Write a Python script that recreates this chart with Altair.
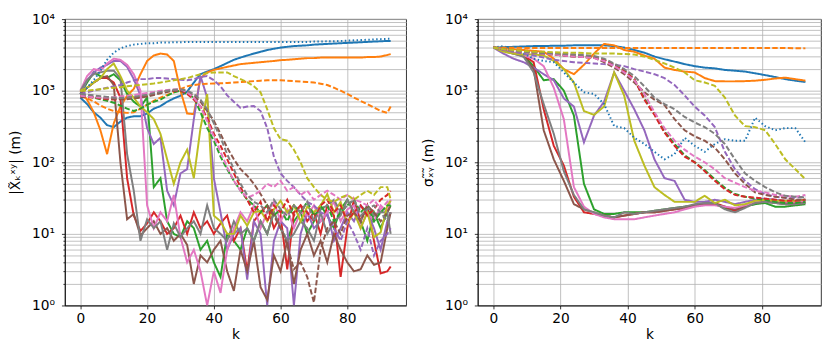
import altair as alt
import pandas as pd

# ---------------- data ----------------
K_LEFT = list(range(0, 93, 2)) + [93]
K_RIGHT = list(range(0, 94, 3))

COLORS = {
    "blue": "#1f77b4", "orange": "#ff7f0e", "green": "#2ca02c", "red": "#d62728",
    "purple": "#9467bd", "brown": "#8c564b", "pink": "#e377c2", "gray": "#7f7f7f",
    "olive": "#bcbd22",
}

# Left panel |X_k^xy| (m), k = 0,2,...,92,93
L_blue = [800, 650, 500, 420, 330, 310, 370, 420, 440, 440,
          480, 560, 610, 700, 780, 850, 970, 1300, 1700, 1850,
          2000, 2200, 2440, 2700, 2900, 3100, 3300, 3500, 3700, 3850,
          4000, 4100, 4200, 4250, 4300, 4400, 4450, 4500, 4550, 4600,
          4650, 4700, 4750, 4800, 4850, 4900, 4950, 4950]
L_blue_dot = [900, 1100, 1400, 1900, 2700, 3400, 3900, 4200, 4400, 4500,
              4600, 4600, 4700, 4700, 4750, 4750, 4800, 4800, 4800, 4800,
              4800, 4800, 4800, 4800, 4800, 4800, 4800, 4800, 4800, 4800,
              4800, 4800, 4800, 4800, 4800, 4850, 4850, 4900, 4900, 4950,
              5000, 5050, 5100, 5150, 5200, 5250, 5300, 5300]
L_orange = [1000, 750, 500, 280, 130, 350, 600, 850, 1060, 1700,
            2600, 3100, 3300, 3200, 2600, 1000, 480, 470, 1500, 1800,
            1950, 2050, 2150, 2250, 2350, 2400, 2450, 2500, 2550, 2600,
            2670, 2700, 2750, 2800, 2850, 2850, 2900, 2900, 2900, 2900,
            2900, 2900, 2900, 2950, 2950, 3000, 3150, 3250]
L_orange_dash = [850, 780, 710, 620, 560, 520, 500, 490, 500, 560,
                 640, 720, 800, 870, 950, 1050, 1150, 1200, 1230, 1250,
                 1260, 1270, 1280, 1300, 1320, 1340, 1360, 1380, 1400, 1400,
                 1400, 1380, 1360, 1340, 1320, 1300, 1250, 1200, 1100, 1000,
                 900, 800, 720, 650, 580, 520, 490, 600]
L_green = [900, 1300, 1800, 1600, 1500, 1700, 1400, 900, 700, 600,
           800, 45, 60, 15, 10, 9, 15, 12, 6, 8,
           4, 2.5, 10, 8, 6, 12, 8, 15, 10, 20,
           12, 8, 15, 20, 10, 15, 25, 18, 12, 22,
           30, 20, 15, 8, 20, 12, 20, 25]
L_green_dash = [900, 850, 800, 760, 720, 680, 620, 560, 520, 560,
                640, 700, 750, 850, 950, 1000, 900, 800, 500, 300,
                200, 120, 80, 55, 40, 30, 25, 20, 25, 18,
                22, 15, 25, 20, 28, 18, 22, 25, 15, 20,
                25, 30, 20, 25, 15, 20, 25, 25]
L_red = [900, 1100, 1300, 1500, 1500, 1300, 800, 60, 18, 11,
         14, 20, 15, 10, 12, 18, 10, 20, 12, 15,
         10, 14, 18, 8, 12, 3, 15, 20, 25, 12,
         18, 3.2, 20, 25, 15, 20, 10, 25, 18, 2.5,
         12, 30, 15, 25, 8, 2.8, 3, 3.5]
L_red_dash = [850, 820, 800, 780, 760, 750, 760, 780, 800, 820,
              850, 900, 950, 1000, 1000, 1000, 900, 750, 600, 420,
              250, 170, 110, 70, 45, 30, 20, 28, 15, 25,
              20, 30, 18, 25, 20, 15, 25, 30, 20, 25,
              15, 20, 25, 18, 22, 30, 35, 40]
L_purple = [900, 1400, 1800, 2100, 2300, 2600, 2600, 2150, 1450, 860,
            300, 180, 220, 40, 25, 70, 80, 400, 1600, 800,
            60, 20, 6, 10, 12, 2.3, 15, 10, 1, 8,
            15, 12, 1, 10, 20, 12, 15, 20, 8, 12,
            20, 15, 25, 20, 12, 6, 15, 20]
L_purple_dash = [900, 950, 1000, 1050, 1100, 1150, 1200, 1300, 1400, 1450,
                 1450, 1500, 1500, 1480, 1450, 1420, 1400, 1450, 1550, 1600,
                 1400, 1150, 860, 700, 575, 600, 610, 520, 300, 120,
                 70, 55, 45, 35, 28, 25, 20, 18, 12, 8,
                 15, 10, 6, 12, 5, 8, 10, 12]
L_brown = [900, 1100, 1300, 1500, 1600, 1200, 100, 16, 19, 9.5,
           12, 15, 10, 12, 8, 10, 7, 2, 5, 4,
           6, 8, 3, 1.6, 6, 3, 8, 1.8, 1.2, 5,
           3, 8, 2, 6, 10, 5, 8, 4, 10, 6,
           4, 3, 3.2, 5, 3.7, 4, 12, 20]
L_brown_dash = [800, 830, 820, 800, 780, 770, 760, 760, 780, 800,
                830, 870, 920, 960, 1000, 1000, 950, 850, 700, 520,
                380, 250, 160, 110, 80, 65, 50, 36, 25, 18,
                12, 7, 3.2, 4, 2.5, 1.1, 6, 12, 15, 10,
                18, 20, 15, 25, 20, 15, 20, 25]
L_pink = [1000, 1600, 2000, 1900, 2400, 2800, 2700, 2300, 1700, 1000,
          25, 12, 20, 15, 35, 9, 4, 6, 3, 1,
          3, 1.5, 6, 12, 20, 15, 25, 12, 20, 28,
          15, 22, 12, 20, 18, 25, 15, 20, 28, 15,
          22, 25, 12, 20, 15, 25, 20, 30]
L_pink_dash = [850, 830, 810, 800, 800, 810, 830, 850, 870, 900,
               930, 960, 1000, 1020, 1040, 1050, 950, 800, 600, 380,
               230, 140, 85, 55, 40, 32, 35, 40, 50, 45,
               55, 40, 45, 35, 40, 30, 35, 40, 35, 30,
               35, 30, 28, 25, 30, 22, 28, 30]
L_gray = [1000, 1400, 1700, 1800, 1900, 1900, 1500, 130, 40, 8,
          16, 12, 15, 6, 14, 9, 12, 15, 10, 25,
          12, 10, 8, 15, 10, 12, 8, 15, 10, 20,
          12, 8, 10, 15, 12, 8, 20, 10, 15, 18,
          30, 20, 15, 25, 18, 20, 20, 10]
L_gray_dash = [900, 880, 860, 840, 820, 800, 790, 800, 820, 850,
               880, 920, 960, 1000, 1030, 1050, 1000, 900, 750, 550,
               350, 220, 130, 80, 50, 35, 28, 25, 20, 30,
               22, 18, 25, 20, 28, 15, 22, 25, 30, 20,
               25, 30, 18, 22, 25, 20, 15, 20]
L_olive = [1000, 1100, 1300, 1500, 2000, 2400, 1600, 1000, 800, 600,
           500, 400, 250, 110, 50, 100, 150, 60, 300, 900,
           18, 15, 10, 10, 18, 13, 20, 21, 15, 22,
           29, 20, 25, 15, 24, 20, 25, 36, 20, 28,
           14, 20, 12, 20, 9, 10.5, 25, 29]
L_olive_dash = [1000, 1000, 1020, 1050, 1080, 1100, 1120, 1150, 1180, 1200,
                1230, 1260, 1300, 1350, 1400, 1450, 1500, 1600, 1700, 1750,
                1800, 1800, 1800, 1600, 1450, 1320, 1150, 950, 550, 300,
                210, 200, 150, 100, 60, 45, 35, 30, 28, 32,
                35, 30, 35, 40, 35, 45, 45, 30]

# Right panel sigma (m), k = 0,3,...,93
R_blue = [4000, 4050, 4100, 4150, 4200, 4200, 4250, 4250, 4300, 4300,
          4300, 4300, 4200, 4000, 3700, 3400, 3000, 2750, 2550, 2350,
          2200, 2100, 2050, 1950, 1900, 1850, 1750, 1650, 1550, 1450,
          1380, 1320]
R_blue_dot = [4000, 4200, 3700, 3300, 2800, 2600, 2500, 1800, 1300, 950,
              900, 650, 320, 300, 220, 180, 140, 110, 130, 220,
              170, 140, 180, 210, 200, 200, 420, 320, 280, 300,
              300, 190]
R_orange = [4000, 3900, 3800, 3700, 3600, 3500, 2800, 2000, 1700, 2300,
            3300, 4500, 4300, 3700, 3500, 3100, 2800, 2100, 1950, 1850,
            1800, 1500, 1360, 1350, 1350, 1360, 1380, 1420, 1480, 1520,
            1450, 1380]
R_orange_dash = [4000, 3980, 3970, 3960, 3950, 3950, 3950, 3950, 3950, 3950,
                 3950, 3950, 3950, 3950, 3950, 3950, 3950, 3950, 3950, 3950,
                 3950, 3950, 3950, 3950, 3950, 3950, 3950, 3950, 3950, 3950,
                 3920, 3900]
R_green = [4000, 3700, 3400, 3100, 2200, 1400, 1450, 1000, 450, 50,
           22, 19, 19, 20, 20, 20, 21, 22, 23, 24,
           25, 26, 26, 23, 21, 24, 26, 27, 24, 24,
           25, 26]
R_green_dash = [4000, 3800, 3600, 3500, 3400, 3300, 3200, 3100, 3000, 2950,
                2900, 2700, 2300, 1900, 1450, 780, 480, 270, 180, 125,
                100, 78, 58, 44, 36, 33, 31, 30, 28, 27,
                27, 28]
R_red = [4000, 3700, 3400, 3100, 2500, 550, 170, 90, 33, 20,
         19, 18, 17, 18, 19, 20, 20, 21, 22, 23,
         25, 27, 27, 24, 21, 24, 28, 29, 28, 27,
         27, 28]
R_red_dash = [4000, 3800, 3600, 3500, 3400, 3300, 3200, 3100, 3000, 2950,
              2900, 2700, 2300, 1900, 1450, 750, 460, 260, 170, 120,
              100, 75, 55, 42, 35, 33, 32, 31, 30, 29,
              29, 30]
R_purple = [4000, 3300, 2800, 2500, 2100, 1700, 1400, 780, 600, 190,
            450, 700, 1800, 1000, 550, 280, 110, 60, 55, 30,
            28, 28, 30, 28, 26, 28, 30, 31, 30, 29,
            29, 30]
R_purple_dash = [4000, 3700, 3500, 3300, 3100, 2900, 2700, 2600, 2500, 2450,
                 2400, 2350, 2300, 2200, 2000, 1850, 1700, 1500, 1200, 860,
                 600, 450, 310, 140, 80, 55, 42, 36, 33, 32,
                 32, 33]
R_brown = [4000, 3600, 3300, 3000, 2000, 280, 110, 55, 26, 22,
           20, 18, 17, 18, 19, 20, 20, 21, 22, 23,
           25, 26, 26, 24, 22, 24, 27, 28, 27, 26,
           26, 27]
R_brown_dash = [4000, 3800, 3600, 3500, 3400, 3350, 3300, 3250, 3200, 3100,
                2900, 2500, 2100, 1700, 1300, 950, 750, 630, 400, 280,
                230, 200, 160, 110, 70, 50, 38, 35, 33, 32,
                30, 30]
R_pink = [4000, 3700, 3400, 3100, 2800, 2200, 1100, 400, 45, 24,
          19, 17, 16, 16, 16, 17, 18, 19, 20, 22,
          24, 25, 25, 24, 23, 25, 28, 30, 29, 28,
          28, 29]
R_pink_dash = [4000, 3800, 3600, 3500, 3400, 3300, 3200, 3100, 3000, 2950,
               2850, 2600, 2200, 1800, 1400, 900, 500, 300, 200, 150,
               120, 100, 80, 60, 52, 45, 40, 38, 35, 34,
               33, 35]
R_gray = [4000, 3600, 3300, 3000, 1800, 650, 250, 75, 35, 22,
          20, 18, 17, 20, 19, 20, 21, 22, 23, 24,
          26, 27, 27, 22, 20, 23, 27, 28, 27, 26,
          26, 27]
R_gray_dash = [4000, 3800, 3600, 3500, 3400, 3350, 3300, 3250, 3200, 3150,
               3050, 2800, 2400, 2000, 1600, 1150, 800, 650, 550, 430,
               360, 310, 250, 180, 110, 70, 55, 45, 38, 34,
               33, 32]
R_olive = [4000, 3500, 3300, 3200, 3200, 3100, 2600, 2000, 1300, 520,
           460, 600, 1800, 850, 200, 90, 45, 35, 28, 28,
           28, 34, 27, 30, 25, 26, 29, 30, 29, 29,
           29, 30]
R_olive_dash = [4000, 3800, 3700, 3600, 3500, 3500, 3450, 3400, 3400, 3350,
                3300, 3300, 3300, 3250, 3200, 3000, 2700, 2400, 2100, 1800,
                1400, 1300, 1170, 800, 450, 320, 310, 280, 180, 110,
                80, 58]

LEFT_SERIES = [
    ("blue", "solid", L_blue), ("orange", "solid", L_orange), ("green", "solid", L_green),
    ("red", "solid", L_red), ("purple", "solid", L_purple), ("brown", "solid", L_brown),
    ("pink", "solid", L_pink), ("gray", "solid", L_gray), ("olive", "solid", L_olive),
    ("blue", "dotted", L_blue_dot), ("orange", "dashed", L_orange_dash),
    ("green", "dashed", L_green_dash), ("red", "dashed", L_red_dash),
    ("purple", "dashed", L_purple_dash), ("brown", "dashed", L_brown_dash),
    ("pink", "dashed", L_pink_dash), ("gray", "dashed", L_gray_dash),
    ("olive", "dashed", L_olive_dash),
]
RIGHT_SERIES = [
    ("blue", "solid", R_blue), ("orange", "solid", R_orange), ("green", "solid", R_green),
    ("red", "solid", R_red), ("purple", "solid", R_purple), ("brown", "solid", R_brown),
    ("pink", "solid", R_pink), ("gray", "solid", R_gray), ("olive", "solid", R_olive),
    ("blue", "dotted", R_blue_dot), ("orange", "dashed", R_orange_dash),
    ("green", "dashed", R_green_dash), ("red", "dashed", R_red_dash),
    ("purple", "dashed", R_purple_dash), ("brown", "dashed", R_brown_dash),
    ("pink", "dashed", R_pink_dash), ("gray", "dashed", R_gray_dash),
    ("olive", "dashed", R_olive_dash),
]

Y_TICKS = [m * 10 ** e for e in range(4) for m in range(1, 10)] + [10000]
X_TICKS = [0, 20, 40, 60, 80]


def frame(ks, series):
    rows = []
    for i, (c, style, vals) in enumerate(series):
        assert len(vals) == len(ks), (c, style, len(vals))
        for k, v in zip(ks, vals):
            rows.append({"k": k, "v": v, "series": f"{i:02d}_{c}_{style}",
                         "color": COLORS[c], "style": style})
    return pd.DataFrame(rows)


LABEL_EXPR = ("datum.value == 1 ? '10⁰' : datum.value == 10 ? '10¹' : "
              "datum.value == 100 ? '10²' : datum.value == 1000 ? '10³' : "
              "datum.value == 10000 ? '10⁴' : ''")
MAJOR_TEST = "indexof([1, 10, 100, 1000, 10000], datum.value) >= 0"


def panel(df, ytitle, width):
    return alt.Chart(df).mark_line(strokeWidth=2, clip=True).encode(
        x=alt.X("k:Q",
                scale=alt.Scale(domain=[-4.65, 97.65], nice=False, zero=False),
                axis=alt.Axis(values=X_TICKS, title="k", grid=True, tickSize=3.5,
                              labelPadding=3, titlePadding=2)),
        y=alt.Y("v:Q",
                scale=alt.Scale(type="log", domain=[1, 10000], nice=False),
                axis=alt.Axis(values=Y_TICKS, labelExpr=LABEL_EXPR, grid=True,
                              labelOverlap=False, title=ytitle, titlePadding=9,
                              labelPadding=7,
                              tickSize={"condition": {"test": MAJOR_TEST, "value": 3.5},
                                        "value": 2})),
        color=alt.Color("color:N", scale=None),
        strokeDash=alt.StrokeDash(
            "style:N",
            scale=alt.Scale(domain=["solid", "dashed", "dotted"],
                            range=[[1, 0], [5.5, 2.4], [1.5, 2.5]]),
            legend=None),
        detail="series:N",
    ).properties(width=width, height=292)


left = panel(frame(K_LEFT, LEFT_SERIES), "|X̃ₖˣʸ| (m)", 348)
right = panel(frame(K_RIGHT, RIGHT_SERIES), "σₓ̃ᵧ̃ (m)", 350)

chart = alt.hconcat(left, right, spacing=14).properties(padding=0).configure_view(
    stroke="black", strokeWidth=0.8
).configure_axis(
    domainColor="black", domainWidth=0.8, tickColor="black", tickWidth=0.8,
    labelColor="black", titleColor="black", labelFont="DejaVu Sans",
    titleFont="DejaVu Sans", labelFontSize=14, titleFontSize=14,
    titleFontWeight="normal", gridColor="#b0b0b0", gridWidth=0.8,
)

chart.save("out.html", embed_options={"renderer": "svg", "actions": False})
